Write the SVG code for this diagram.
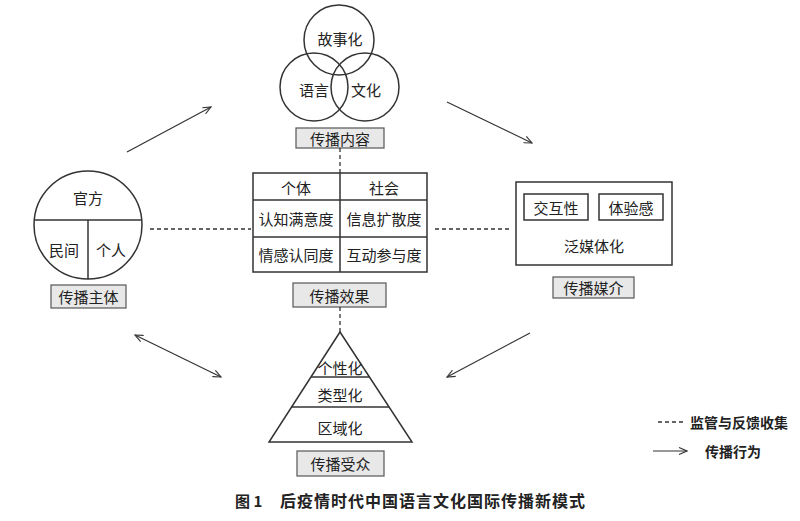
<svg xmlns="http://www.w3.org/2000/svg" width="800" height="521" viewBox="0 0 800 521">
<defs>
<marker id="ah" markerWidth="10" markerHeight="8" refX="9" refY="4" orient="auto" markerUnits="userSpaceOnUse">
<path d="M1,0.5 L9,4 L1,7.5" fill="none" stroke="#333" stroke-width="1.1"/>
</marker>
<marker id="ahs" markerWidth="10" markerHeight="8" refX="1" refY="4" orient="auto" markerUnits="userSpaceOnUse">
<path d="M9,0.5 L1,4 L9,7.5" fill="none" stroke="#333" stroke-width="1.1"/>
</marker>
</defs>
<style>
text{font-family:"Noto Sans CJK SC","Noto Sans CJK JP",sans-serif;fill:#222;text-anchor:middle;dominant-baseline:central}
.t{font-size:15px}
.s{fill:none;stroke:#333;stroke-width:1.5}
.lab{fill:#e8e8e8;stroke:#555;stroke-width:1.2}
.d{fill:none;stroke:#333;stroke-width:1.3;stroke-dasharray:4 3}
.a{fill:none;stroke:#333;stroke-width:1.2}
.lg{font-size:14px;font-weight:bold;text-anchor:start}
</style>
<rect width="800" height="521" fill="#fff"/>
<g id="content">
<circle class="s" cx="339" cy="40" r="35"/>
<circle class="s" cx="314" cy="87" r="34"/>
<circle class="s" cx="365" cy="87" r="34"/>
<text class="t" x="340" y="38">故事化</text>
<text class="t" x="314" y="89">语言</text>
<text class="t" x="366" y="89">文化</text>
<rect class="lab" x="296" y="128" width="88" height="20"/>
<text class="t" x="340" y="138">传播内容</text>
</g>
<g id="subject">
<circle class="s" cx="88" cy="225" r="54"/>
<line class="s" x1="34" y1="220" x2="142" y2="220"/>
<line class="s" x1="88" y1="220" x2="88" y2="279"/>
<text class="t" x="88" y="197">官方</text>
<text class="t" x="64" y="249">民间</text>
<text class="t" x="111" y="249">个人</text>
<rect class="lab" x="51" y="285" width="75" height="23"/>
<text class="t" x="88.5" y="296.5">传播主体</text>
</g>
<g id="effect">
<rect class="s" x="253" y="173" width="174" height="99"/>
<line class="s" x1="253" y1="200" x2="427" y2="200"/>
<line class="s" x1="253" y1="237" x2="427" y2="237"/>
<line class="s" x1="340" y1="173" x2="340" y2="272"/>
<text class="t" x="296" y="187">个体</text>
<text class="t" x="384" y="187">社会</text>
<text class="t" x="296" y="218">认知满意度</text>
<text class="t" x="384" y="218">信息扩散度</text>
<text class="t" x="296" y="254">情感认同度</text>
<text class="t" x="384" y="254">互动参与度</text>
<rect class="lab" x="293" y="283" width="93" height="24"/>
<text class="t" x="339.5" y="295">传播效果</text>
</g>
<g id="media">
<rect class="s" x="516" y="182" width="156" height="83"/>
<rect class="s" x="524" y="194" width="64" height="26"/>
<rect class="s" x="599" y="194" width="64" height="26"/>
<text class="t" x="556" y="207">交互性</text>
<text class="t" x="631" y="207">体验感</text>
<text class="t" x="594" y="245">泛媒体化</text>
<rect class="lab" x="553" y="277" width="81" height="21"/>
<text class="t" x="593.5" y="287.5">传播媒介</text>
</g>
<g id="audience">
<path class="s" d="M340,332 L412,442 L269,442 Z"/>
<line class="s" x1="311" y1="377" x2="369" y2="377"/>
<line class="s" x1="291" y1="407" x2="389" y2="407"/>
<text class="t" x="340" y="367">个性化</text>
<text class="t" x="340" y="394">类型化</text>
<text class="t" x="340" y="427">区域化</text>
<rect class="lab" x="297" y="451" width="87" height="25"/>
<text class="t" x="340.5" y="463.5">传播受众</text>
</g>
<g id="connectors">
<line class="d" x1="340" y1="148" x2="340" y2="173"/>
<line class="d" x1="340" y1="307" x2="340" y2="332"/>
<line class="d" x1="150" y1="229" x2="251" y2="229"/>
<line class="d" x1="435" y1="229" x2="512" y2="229"/>
<line class="a" x1="127" y1="152" x2="211" y2="107" marker-end="url(#ah)"/>
<line class="a" x1="447" y1="102" x2="532" y2="143" marker-end="url(#ah)"/>
<line class="a" x1="135" y1="335" x2="221" y2="377" marker-start="url(#ahs)" marker-end="url(#ah)"/>
<line class="a" x1="530" y1="333" x2="447" y2="377" marker-end="url(#ah)"/>
</g>
<g id="legend">
<line class="d" x1="658" y1="422" x2="684" y2="422"/>
<text class="lg" x="690" y="422">监管与反馈收集</text>
<line class="a" x1="653" y1="451" x2="687" y2="451" marker-end="url(#ah)"/>
<text class="lg" x="705" y="451">传播行为</text>
</g>
<g id="caption">
<text x="235" y="500" style="font-size:15px;font-weight:bold;text-anchor:start">图 1</text>
<text x="280" y="500" style="font-size:16px;font-weight:bold;text-anchor:start;letter-spacing:1px">后疫情时代中国语言文化国际传播新模式</text>
</g>
</svg>
